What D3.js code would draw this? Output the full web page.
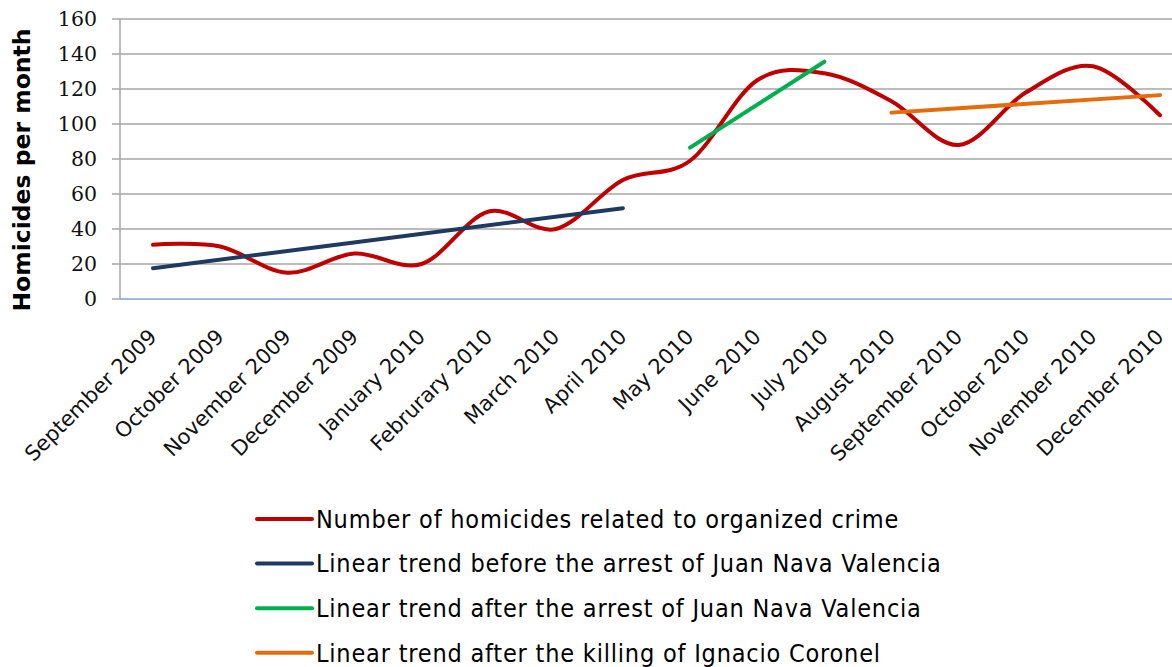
<!DOCTYPE html>
<html>
<head>
<meta charset="utf-8">
<script src="https://cdn.jsdelivr.net/npm/d3@7"></script>
<style>
  body { margin: 0; background: #fff; }
  svg { display: block; }
</style>
</head>
<body>
<div id="chart"></div>
<script>
// Homicides per month, with linear trends around two events

const width = 1172, height = 667;

const months = [
    "September 2009", "October 2009", "November 2009", "December 2009",
    "January 2010", "Februrary 2010", "March 2010", "April 2010",
    "May 2010", "June 2010", "July 2010", "August 2010",
    "September 2010", "October 2010", "November 2010", "December 2010"
];

const homicides = [31, 30, 15, 26, 20, 50, 40, 68, 79, 125, 129, 113, 88, 118, 133, 105];

// trend lines: first and last month, value at each end
const trendBefore = [["September 2009", 17.6], ["April 2010", 51.9]];
const trendAfterArrest = [["May 2010", 86.5], ["July 2010", 135.6]];
const trendAfterKilling = [["August 2010", 106.5], ["December 2010", 116.5]];

const yTicks = [0, 20, 40, 60, 80, 100, 120, 140, 160];

const seriesNames = [
    "Number of homicides related to organized crime",
    "Linear trend before the arrest of Juan Nava Valencia",
    "Linear trend after the arrest of Juan Nava Valencia",
    "Linear trend after the killing of Ignacio Coronel"
];
const seriesColors = ["#c00000", "#1f3a60", "#00b050", "#e46c0a"];

const margin = { top: 19, left: 120, bottom: 299 };

const svg = d3.select("#chart")
    .append("svg")
    .attr("width", width)
    .attr("height", height);

const x = d3.scalePoint()
    .domain(months)
    .range([153, 1160]);

const y = d3.scaleLinear()
    .domain([0, 160])
    .range([margin.bottom, margin.top]);

// gridlines (they also make the little ticks left of the axis)
svg.append("g")
    .selectAll("line")
    .data(yTicks.filter(d => d > 0))
    .enter()
    .append("line")
    .attr("x1", margin.left - 8)
    .attr("x2", width)
    .attr("y1", d => y(d))
    .attr("y2", d => y(d))
    .attr("stroke", "#a6a6a6")
    .attr("stroke-width", 1.5);

// y axis line
svg.append("line")
    .attr("x1", margin.left).attr("x2", margin.left)
    .attr("y1", y(160)).attr("y2", y(0))
    .attr("stroke", "#a6a6a6")
    .attr("stroke-width", 1.5);

svg.append("line")
    .attr("x1", margin.left - 8).attr("x2", margin.left)
    .attr("y1", y(0)).attr("y2", y(0))
    .attr("stroke", "#a6a6a6")
    .attr("stroke-width", 1.5);

// x axis line
svg.append("line")
    .attr("x1", margin.left).attr("x2", width)
    .attr("y1", y(0)).attr("y2", y(0))
    .attr("stroke", "#7fa1d3")
    .attr("stroke-width", 1.5);

// y tick labels
svg.append("g")
    .selectAll("text")
    .data(yTicks)
    .enter()
    .append("text")
    .attr("x", 97)
    .attr("y", d => y(d))
    .attr("dy", "0.35em")
    .attr("text-anchor", "end")
    .style("font-family", "'DejaVu Serif', serif")
    .style("font-size", "20.5px")
    .style("fill", "#111")
    .text(d => d);

// y axis title
svg.append("text")
    .attr("transform", "translate(22, 170) rotate(-90)")
    .attr("text-anchor", "middle")
    .attr("dy", "0.35em")
    .style("font-family", "'DejaVu Sans', sans-serif")
    .style("font-weight", "bold")
    .style("font-size", "23.5px")
    .text("Homicides per month");

// x labels, rotated
svg.append("g")
    .selectAll("text")
    .data(months)
    .enter()
    .append("text")
    .attr("transform", d => `translate(${x(d) + 5}, 338) rotate(-45)`)
    .attr("text-anchor", "end")
    .style("font-family", "'DejaVu Sans', sans-serif")
    .style("font-size", "21px")
    .style("fill", "#111")
    .text(d => d);

// homicide line (smoothed)
const line = d3.line()
    .x((d, i) => x(months[i]))
    .y(d => y(d))
    .curve(d3.curveCardinal.tension(0));

svg.append("path")
    .datum(homicides)
    .attr("d", line)
    .attr("fill", "none")
    .attr("stroke", seriesColors[0])
    .attr("stroke-width", 4)
    .attr("stroke-linecap", "round");

// trend lines
const trendLine = d3.line()
    .x(d => x(d[0]))
    .y(d => y(d[1]));

[trendBefore, trendAfterArrest, trendAfterKilling].forEach((t, i) => {
    svg.append("path")
        .datum(t)
        .attr("d", trendLine)
        .attr("fill", "none")
        .attr("stroke", seriesColors[i + 1])
        .attr("stroke-width", 4)
        .attr("stroke-linecap", "round");
});

// legend
const legend = svg.append("g")
    .attr("transform", "translate(257, 519)");

seriesNames.forEach((name, i) => {
    const row = legend.append("g")
        .attr("transform", `translate(0, ${i * 44.6})`);

    row.append("line")
        .attr("x1", 0).attr("x2", 55)
        .attr("stroke", seriesColors[i])
        .attr("stroke-width", 4)
        .attr("stroke-linecap", "round");

    row.append("text")
        .attr("x", 59)
        .attr("dy", "0.35em")
        .style("font-family", "'DejaVu Sans Condensed', 'DejaVu Sans', sans-serif")
        .style("font-stretch", "condensed")
        .style("font-size", "25px")
        .style("letter-spacing", "0.8px")
        .style("fill", "#000")
        .text(name);
});
</script>
</body>
</html>
